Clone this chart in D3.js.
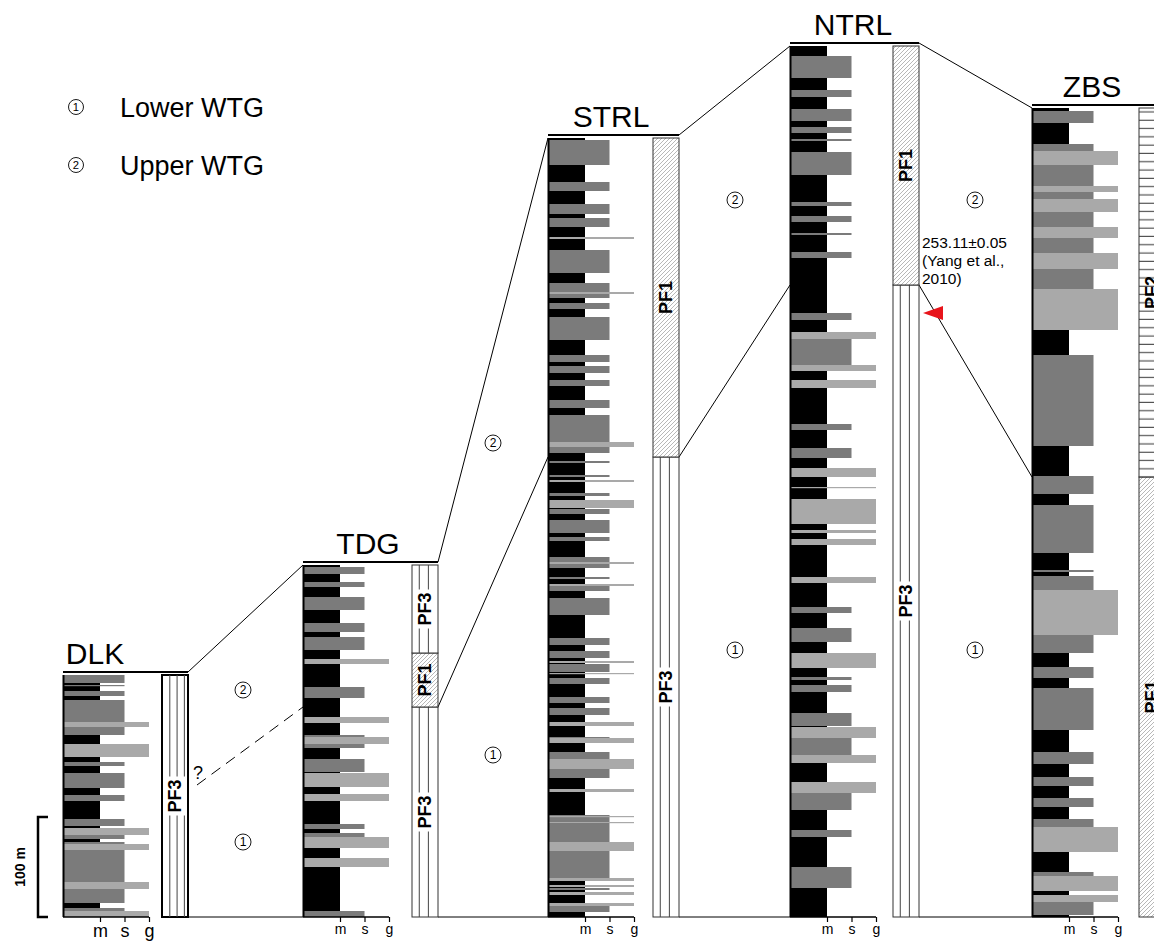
<!DOCTYPE html>
<html>
<head>
<meta charset="utf-8">
<script src="https://cdn.jsdelivr.net/npm/d3@7"></script>
<style>
  body { margin: 0; background: #fff; }
  text { font-family: "Liberation Sans", Arial, sans-serif; }
</style>
</head>
<body>
<svg id="chart" width="1154" height="945"></svg>
<script>
// ---- data (heights in metres above the base of each section) ----
var sections = ["DLK", "TDG", "STRL", "NTRL", "ZBS"];
var thickness = [242, 352, 779, 871, 809];
var grainClasses = ["m", "s", "g"];

// non-mudstone beds: [base, top, grain class]; mudstone (m) fills the rest
var dlkBeds = [
  [234, 242, "s"], [231, 232, "s"], [221, 226, "s"], [214, 217, "s"], [195, 214, "s"],
  [190, 195, "g"], [182, 190, "s"], [160, 173, "g"], [151, 155, "s"], [129, 144, "s"],
  [116, 122, "s"], [91, 98, "s"], [82, 89, "g"], [78, 82, "s"], [73, 75, "s"],
  [67, 73, "g"], [35, 67, "s"], [28, 35, "g"], [14, 28, "s"], [6, 9, "s"], [0, 6, "g"]
];
var tdgBeds = [
  [343, 350, "s"], [330, 335, "s"], [307, 320, "s"], [285, 294, "s"], [267, 280, "s"],
  [253, 258, "g"], [219, 230, "s"], [194, 200, "g"], [180, 182, "s"], [173, 180, "g"],
  [169, 173, "s"], [145, 158, "s"], [130, 144, "g"], [116, 123, "g"], [88, 93, "s"],
  [80, 84, "s"], [69, 80, "g"], [50, 59, "g"], [0, 6, "s"]
];
var strlBeds = [
  [752, 777, "s"], [726, 735, "s"], [703, 713, "s"], [690, 699, "s"], [678, 680, "g"],
  [644, 667, "s"], [625, 634, "s"], [623, 625, "g"], [619, 623, "s"], [608, 614, "s"],
  [577, 600, "s"], [555, 562, "s"], [544, 551, "s"], [531, 537, "s"], [509, 517, "s"],
  [475, 502, "s"], [470, 475, "g"], [464, 470, "s"], [454, 456, "s"], [440, 442, "s"],
  [435, 437, "g"], [421, 424, "s"], [409, 417, "g"], [403, 408, "s"], [384, 397, "s"],
  [376, 380, "s"], [349, 360, "s"], [353, 355, "g"], [338, 340, "s"], [326, 333, "s"],
  [331, 333, "g"], [302, 319, "s"], [272, 279, "s"], [259, 266, "s"], [254, 256, "g"],
  [245, 253, "s"], [243, 244, "g"], [233, 239, "s"], [214, 220, "s"], [202, 209, "s"],
  [191, 195, "g"], [179, 180, "s"], [174, 179, "g"], [158, 165, "s"], [148, 158, "g"],
  [139, 148, "s"], [125, 128, "g"], [94, 102, "s"], [100, 101, "g"], [94, 95, "g"],
  [75, 94, "s"], [66, 75, "g"], [39, 66, "s"], [36, 39, "g"], [30, 32, "g"],
  [27, 29, "s"], [22, 25, "g"], [11, 14, "g"], [5, 11, "s"]
];
var ntrlBeds = [
  [839, 861, "s"], [820, 827, "s"], [796, 808, "s"], [784, 790, "s"], [776, 778, "s"],
  [742, 765, "s"], [711, 715, "s"], [695, 701, "s"], [682, 684, "s"], [659, 665, "s"],
  [597, 604, "s"], [578, 585, "g"], [552, 578, "s"], [546, 552, "g"], [529, 537, "g"],
  [487, 493, "s"], [459, 469, "s"], [440, 449, "g"], [429, 430, "g"], [393, 418, "g"],
  [384, 387, "g"], [372, 378, "g"], [334, 340, "g"], [304, 310, "s"], [275, 289, "s"],
  [249, 264, "g"], [237, 240, "s"], [225, 232, "s"], [191, 204, "s"], [179, 190, "g"],
  [162, 179, "s"], [154, 162, "g"], [124, 135, "g"], [107, 124, "s"], [80, 87, "s"],
  [29, 50, "s"]
];
var zbsBeds = [
  [794, 806, "s"], [766, 773, "s"], [752, 766, "g"], [731, 752, "s"], [725, 731, "g"],
  [718, 725, "s"], [705, 718, "g"], [690, 705, "s"], [679, 690, "g"], [664, 679, "s"],
  [648, 664, "g"], [628, 648, "s"], [587, 628, "g"], [471, 562, "s"], [423, 441, "s"],
  [364, 412, "s"], [345, 347, "s"], [327, 341, "s"], [282, 327, "g"], [264, 282, "s"],
  [239, 250, "s"], [187, 229, "s"], [153, 165, "s"], [131, 140, "s"], [110, 119, "s"],
  [90, 98, "s"], [65, 90, "g"], [41, 45, "s"], [26, 41, "g"], [15, 22, "g"], [2, 15, "s"]
];

// PF units on the right of each section: [base, top, unit]
var dlkUnits = [[0, 242, "PF3"]];
var tdgUnits = [[0, 210, "PF3"], [210, 264, "PF1"], [264, 352, "PF3"]];
var strlUnits = [[0, 460, "PF3"], [460, 779, "PF1"]];
var ntrlUnits = [[0, 632, "PF3"], [632, 871, "PF1"]];
var zbsUnits = [[0, 440, "PF1"], [440, 809, "PF2"]];

// Lower/Upper WTG boundary: [height in left section, height in right section]
var wtgBoundary = [[132, 210], [210, 460], [460, 632], [632, 440]];
var legendItems = ["Lower WTG", "Upper WTG"];
var ageLines = ["253.11\u00b10.05", "(Yang et al.,", "2010)"];
var ageHeight = 604;   // in NTRL

var bedsBySection = [dlkBeds, tdgBeds, strlBeds, ntrlBeds, zbsBeds];
var unitsBySection = [dlkUnits, tdgUnits, strlUnits, ntrlUnits, zbsUnits];

// ---- layout ----
var colX = [63, 303, 548, 790, 1032];
var pfX = [162, 412, 653, 893, 1139];
var pfW = 26;
var titleDx = [32, 65, 63, 63, 60];
var gapLabelX = [243, 493, 735, 975];
var gapLabelH = [[75, 227], [162, 474], [267, 717], [267, 717]];

var lithColor = { m: "#000000", s: "#7b7b7b", g: "#a9a9a9" };

var svg = d3.select("#chart");
var yScale = d3.scaleLinear().domain([0, 100]).range([917, 817]);
var grain = d3.scalePoint().domain(grainClasses).range([37, 86]);

var defs = svg.append("defs");
var hatch = defs.append("pattern").attr("id", "hatch")
  .attr("patternUnits", "userSpaceOnUse").attr("width", 4).attr("height", 4);
hatch.append("rect").attr("width", 4).attr("height", 4).attr("fill", "#fff");
hatch.append("path").attr("d", "M-1,1 l2,-2 M0,4 l4,-4 M3,5 l2,-2")
  .attr("stroke", "#9a9a9a").attr("stroke-width", 0.7);
var hstripe = defs.append("pattern").attr("id", "hstripe")
  .attr("patternUnits", "userSpaceOnUse").attr("width", 8).attr("height", 8.3);
hstripe.append("rect").attr("width", 8).attr("height", 8.3).attr("fill", "#fff");
hstripe.append("line").attr("x1", 0).attr("x2", 8).attr("y1", 4).attr("y2", 4)
  .attr("stroke", "#333").attr("stroke-width", 1);

function circledNum(g, x, y, n, r) {
  g.append("circle").attr("cx", x).attr("cy", y).attr("r", r)
    .attr("fill", "none").attr("stroke", "#000").attr("stroke-width", 0.9);
  g.append("text").attr("x", x).attr("y", y).attr("dy", "0.36em")
    .attr("text-anchor", "middle").attr("font-size", r * 1.5).text(n);
}

// ---- correlation lines (drawn under the columns) ----
var links = svg.append("g").attr("stroke", "#000").attr("stroke-width", 1).attr("fill", "none");
for (var i = 0; i < sections.length - 1; i++) {
  var xa = pfX[i] + pfW, xb = colX[i + 1];
  links.append("line").attr("x1", xa).attr("x2", xb)
    .attr("y1", yScale(thickness[i]) - 3).attr("y2", yScale(thickness[i + 1]));
  links.append("line").attr("x1", xa).attr("x2", xb)
    .attr("y1", yScale(0)).attr("y2", yScale(0));
  var b = wtgBoundary[i];
  var l = links.append("line").attr("x1", i === 0 ? xa + 9 : xa).attr("x2", xb)
    .attr("y1", yScale(b[0])).attr("y2", yScale(b[1]));
  if (i === 0) l.attr("stroke-dasharray", "11,7");
}

// ---- sections ----
sections.forEach(function (name, i) {
  var g = svg.append("g").attr("transform", "translate(" + colX[i] + ",0)");
  var top = yScale(thickness[i]);

  g.append("rect").attr("x", 0).attr("y", top).attr("width", grain("m"))
    .attr("height", yScale(0) - top).attr("fill", lithColor.m);

  g.selectAll("rect.bed").data(bedsBySection[i]).enter().append("rect")
    .attr("class", "bed")
    .attr("x", 1)
    .attr("y", function (d) { return yScale(d[1]); })
    .attr("width", function (d) { return grain(d[2]) - 1; })
    .attr("height", function (d) { return Math.max(1.2, yScale(d[0]) - yScale(d[1])); })
    .attr("fill", function (d) { return lithColor[d[2]]; });

  g.append("line").attr("x1", 0.5).attr("x2", 0.5).attr("y1", top).attr("y2", yScale(0))
    .attr("stroke", "#000").attr("stroke-width", 2);

  // grain-size axis
  var ax = g.append("g").attr("transform", "translate(0," + yScale(0) + ")")
    .call(d3.axisBottom(grain).tickSize(5).tickPadding(2));
  ax.select(".domain").remove();
  ax.selectAll("line").attr("stroke-width", 1.2);
  ax.selectAll("text").attr("font-size", i === 0 ? 18 : 14).attr("font-family", "Liberation Sans, Arial, sans-serif");
  g.append("line").attr("x1", 0).attr("x2", grain("g")).attr("y1", yScale(0)).attr("y2", yScale(0))
    .attr("stroke", "#000").attr("stroke-width", 1.5);

  // title
  var px = pfX[i] - colX[i];
  g.append("line").attr("x1", 0).attr("x2", px + pfW).attr("y1", top - 3).attr("y2", top - 3)
    .attr("stroke", "#000").attr("stroke-width", 2);
  g.append("text").attr("x", titleDx[i]).attr("y", top - 11)
    .attr("text-anchor", "middle").attr("font-size", 30).text(name);

  // PF units
  unitsBySection[i].forEach(function (u) {
    var y0 = yScale(u[1]), y1 = yScale(u[0]);
    var fill = u[2] === "PF1" ? "url(#hatch)" : u[2] === "PF2" ? "url(#hstripe)" : "#fff";
    g.append("rect").attr("x", px).attr("y", y0).attr("width", pfW).attr("height", y1 - y0)
      .attr("fill", fill).attr("stroke", i === 0 ? "#000" : "#333").attr("stroke-width", i === 0 ? 2 : 1);
    if (u[2] === "PF3") {
      var fr = i === 0 ? [0.3, 0.58, 0.86] : [0.28, 0.63];
      fr.forEach(function (f) {
        g.append("line").attr("x1", px + f * pfW).attr("x2", px + f * pfW)
          .attr("y1", y0).attr("y2", y1).attr("stroke", "#444").attr("stroke-width", 1);
      });
    }
    var cx = px + pfW / 2, cy = (y0 + y1) / 2;
    var lab = g.append("g").attr("transform", "translate(" + cx + "," + cy + ") rotate(-90)");
    var bg = lab.append("rect").attr("fill", "#fff");
    var t = lab.append("text").attr("text-anchor", "middle").attr("dy", "0.36em")
      .attr("font-size", 18).attr("font-weight", "bold").text(u[2]);
    var len = t.node().getComputedTextLength();
    if (u[2] === "PF3") {
      bg.attr("x", -len / 2 - 3).attr("y", -pfW / 2 + 1).attr("width", len + 6).attr("height", pfW - 2);
    } else {
      bg.remove();
    }
  });
});

// ---- gap labels ----
var labels = svg.append("g");
gapLabelX.forEach(function (x, i) {
  circledNum(labels, x, yScale(gapLabelH[i][0]), "1", 8);
  circledNum(labels, x, yScale(gapLabelH[i][1]), "2", 8);
});
svg.append("text").attr("x", 193).attr("y", yScale(132) - 6).attr("font-size", 18).text("?");

// ---- age marker ----
var ax0 = pfX[3] + pfW;
svg.append("path")
  .attr("d", "M" + (ax0 + 4) + "," + yScale(ageHeight) + " L" + (ax0 + 24) + "," + (yScale(ageHeight) - 7) +
    " L" + (ax0 + 24) + "," + (yScale(ageHeight) + 7) + "Z")
  .attr("fill", "#e8141b");
svg.append("g").selectAll("text").data(ageLines).enter().append("text")
  .attr("x", ax0 + 3).attr("y", function (d, k) { return 248 + k * 18; })
  .attr("font-size", 15.5).text(function (d) { return d; });

// ---- legend ----
var leg = svg.append("g");
legendItems.forEach(function (s, k) {
  var y = 107 + k * 58;
  circledNum(leg, 76, y, String(k + 1), 7.5);
  leg.append("text").attr("x", 120).attr("y", y + 10).attr("font-size", 27).text(s);
});

// ---- scale bar ----
var sb = svg.append("g").attr("stroke", "#000").attr("fill", "none");
sb.append("path").attr("d", "M48," + yScale(100) + " H38 V" + yScale(0) + " H48")
  .attr("stroke-width", 2.5);
svg.append("text").attr("transform", "translate(25," + yScale(50) + ") rotate(-90)")
  .attr("text-anchor", "middle").attr("font-size", 14).attr("font-weight", "bold").text("100 m");
</script>
</body>
</html>
